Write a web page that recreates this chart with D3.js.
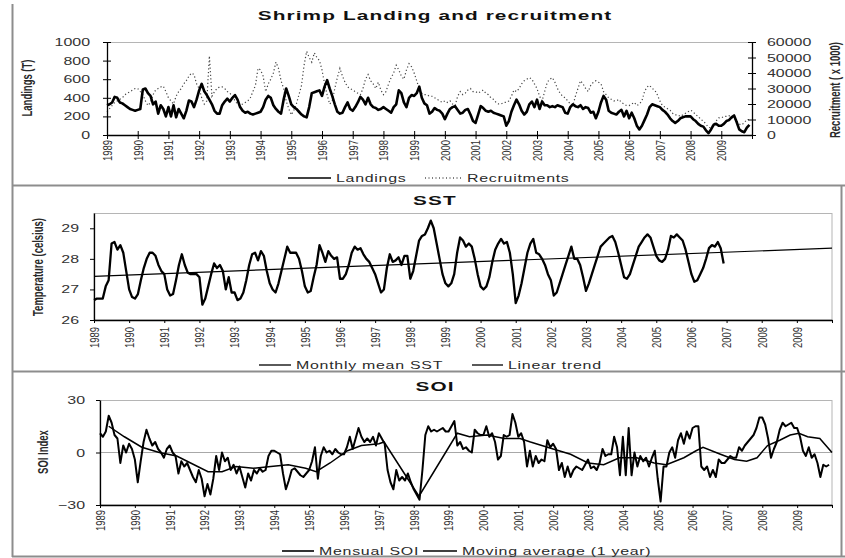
<!DOCTYPE html>
<html>
<head>
<meta charset="utf-8">
<script src="https://cdn.jsdelivr.net/npm/d3@7"></script>
<style>
body { margin: 0; background: #fff; }
svg { display: block; font-family: "Liberation Sans", Arial, sans-serif; }
</style>
</head>
<body>
<svg id="chart" width="845" height="558"></svg>
<script>
var startYear = 1989, endYear = 2010;
var yearTicks = d3.range(1989, 2011);

// monthly landings (T), Jan 1989 - Dec 2009
var landings = [
  320, 330, 350, 410, 400, 350, 340, 320, 300, 280, 270, 260,
  270, 280, 490, 500, 450, 420, 330, 360, 230, 320, 280, 200,
  300, 200, 320, 190, 280, 230, 180, 260, 370, 360, 300, 380,
  480, 550, 470, 430, 380, 330, 260, 230, 230, 320, 360, 390,
  360, 400, 430, 380, 300, 260, 240, 250, 230, 220, 230, 240,
  250, 300, 380, 420, 400, 320, 280, 250, 230, 380, 500, 420,
  330, 300, 280, 250, 220, 200, 190, 300, 450, 460, 470, 480,
  420, 520, 590, 500, 420, 330, 250, 230, 240, 300, 350, 280,
  260, 300, 350, 410, 380, 330, 400, 330, 300, 290, 270, 280,
  300, 280, 260, 240, 300, 330, 480, 450, 350, 300, 400, 430,
  420, 450, 520, 400, 340, 320, 230, 250, 290, 270, 260, 230,
  170, 230, 280, 300, 310, 270, 230, 240, 270, 280, 220, 150,
  130, 220, 310, 290, 260, 250, 260, 240, 230, 220, 210, 200,
  100, 150, 250, 320, 380, 330, 260, 220, 250, 330, 360, 300,
  380, 280, 360, 320, 320, 300, 310, 300, 320, 310, 300, 240,
  230, 300, 330, 310, 300, 320, 280, 300, 290, 240, 250, 180,
  250, 350, 420, 380, 260, 240, 230, 220, 250, 270, 200, 260,
  180, 240, 180, 100, 60, 100, 160, 220, 300, 330, 320, 310,
  300, 270, 250, 220, 180, 150, 130, 150, 180, 190, 200, 200,
  200, 170, 150, 120, 100, 90, 50, 20, 60, 110, 120, 100,
  100, 120, 150, 160, 190, 210, 140, 60, 40, 30, 80, 110
];

// monthly recruitment (x 1000)
var recruitment = [
  15000, 17000, 19000, 21000, 22000, 23000, 24000, 26000, 27000, 28000, 29000, 30000,
  30000, 28000, 26000, 22000, 19000, 21000, 26000, 29000, 30000, 31000, 31500, 28000,
  24000, 22000, 20000, 25000, 28000, 30000, 33000, 35000, 38000, 40000, 39000, 33000,
  30000, 24000, 20000, 22000, 51000, 25000, 28000, 30000, 31000, 31000, 30000, 28000,
  27000, 25000, 22000, 20000, 19000, 20000, 21000, 22000, 24000, 28000, 32000, 43000,
  42000, 38000, 28000, 33000, 36000, 40000, 47000, 43000, 35000, 30000, 22000, 17000,
  13000, 16000, 20000, 26000, 32000, 45000, 54000, 50000, 47000, 53000, 50000, 48000,
  42000, 33000, 26000, 20000, 22000, 30000, 37000, 43000, 38000, 34000, 31000, 30000,
  29000, 28000, 27000, 26000, 30000, 36000, 39000, 35000, 33000, 30000, 34000, 29000,
  26000, 28000, 33000, 37000, 40000, 45000, 42000, 38000, 36000, 42000, 46000, 44000,
  40000, 35000, 30000, 27000, 26000, 26000, 25000, 25000, 24000, 23000, 22000, 21000,
  22000, 21000, 22000, 20000, 19000, 25000, 28000, 26000, 27000, 29000, 30000, 28000,
  28000, 27000, 28000, 29000, 27000, 26000, 24000, 23000, 21000, 20000, 20000, 21000,
  21000, 22000, 25000, 29000, 28000, 30000, 33000, 35000, 36000, 37000, 36000, 33000,
  30000, 25000, 22000, 28000, 34000, 36000, 37000, 34000, 30000, 27000, 25000, 24000,
  22000, 20000, 19000, 25000, 30000, 35000, 33000, 30000, 28000, 32000, 34000, 35000,
  34000, 33000, 28000, 26000, 24000, 23000, 22000, 22000, 23000, 21000, 20000, 19000,
  19000, 20000, 21000, 19000, 20000, 22000, 28000, 31000, 32000, 30000, 29000, 26000,
  22000, 19000, 18000, 17000, 16000, 14000, 13000, 13000, 12000, 13000, 14000, 15000,
  16000, 15000, 13000, 12000, 10000, 9000, 7000, 5000, 4500, 7000, 9000, 11000,
  11000, 12000, 12000, 12500, 11000, 11000, 9000, 7000, 6500, 8000, 10000, 10000
];

// monthly mean SST (celsius), Jan 1989 - Dec 2006
var sst = [
  26.65, 26.7, 26.7, 26.7, 27.1, 27.3, 28.5, 28.55, 28.3, 28.45, 28.2, 27.6,
  27.0, 26.75, 26.7, 26.85, 27.3, 27.7, 28.0, 28.2, 28.2, 28.1, 27.8, 27.6,
  27.5, 27.0, 26.8, 26.85, 27.3, 27.8, 28.15, 27.8, 27.55, 27.5, 27.5, 27.5,
  27.4, 26.5, 26.7, 27.1, 27.5, 27.85, 27.7, 27.8, 27.6, 27.0, 27.4, 26.9,
  26.9, 26.65, 26.7, 26.9, 27.3, 27.8, 28.15, 28.2, 27.95, 28.25, 28.1, 27.6,
  27.2, 27.0, 26.9, 27.2, 27.6, 28.0, 28.4, 28.2, 28.2, 28.2, 28.0, 27.6,
  27.1, 26.9, 26.95, 27.4, 27.8, 28.45, 28.2, 27.9, 28.25, 28.1, 28.0, 28.05,
  27.35, 27.35, 27.5, 27.8, 28.2, 28.4, 28.3, 28.35, 28.15, 28.0, 27.9, 27.7,
  27.5, 27.2, 26.9, 27.0, 27.7, 28.15, 27.9, 27.95, 28.05, 27.8, 28.1, 28.1,
  27.35, 27.6, 28.1, 28.6, 28.75, 28.8, 29.0, 29.25, 29.0, 28.5, 28.0, 27.5,
  27.2, 27.1, 27.2, 27.5, 28.2, 28.7, 28.6, 28.4, 28.5, 28.4, 28.0, 27.5,
  27.1, 27.0, 27.1, 27.4, 27.9, 28.3, 28.5, 28.65, 28.5, 28.55, 28.2, 27.5,
  26.55, 26.8, 27.2, 27.7, 28.2, 28.5, 28.65, 28.2, 28.15, 28.0, 27.8, 27.5,
  27.3, 26.8, 26.9, 27.2, 27.5, 27.8, 28.1, 28.4, 28.0, 28.0, 27.8, 27.4,
  26.95, 27.2, 27.5, 27.8, 28.1, 28.4, 28.5, 28.6, 28.7, 28.75, 28.55, 28.2,
  27.8, 27.4, 27.35, 27.5, 27.8, 28.1, 28.4, 28.55, 28.7, 28.8, 28.7, 28.4,
  28.1, 27.95, 27.9, 28.0, 28.3, 28.75, 28.7, 28.8, 28.7, 28.6, 28.3, 27.9,
  27.5, 27.25, 27.3, 27.5, 27.7, 28.0, 28.35, 28.45, 28.4, 28.55, 28.35, 27.85
];
var trendYears = [1989, 2010];
var trendValues = [27.43, 28.35];

// mensual SOI, Jan 1989 - Dec 2009
var soi = [
  11, 9, 12, 21, 17, 10, 8, -6, 4, 0, 5, 2,
  -4, -17, -5, 6, 13, 8, 4, 6, 2, 0, -3, 2,
  4, 0, -2, -12, -5, -8, -6, -10, -14, -17, -10, -15,
  -25, -18, -24, -15, -2, -10, 0, -5, -3, -10, -7, -12,
  -8, -14, -20, -12, -16, -10, -12, -9, -11, -10, -2, 1,
  1, 0, -1, -12, -21, -16, -10, -9, -11, -13, -14, -12,
  -10, -5, 3, -15, -2, 3, 0, 1, -1, 2, 0, -1,
  -1, 3, 9, 2, 8, 14, 9, 6, 8, 6, 9, 4,
  11, 8, 5, -10, -17, -21, -10, -16, -14, -16, -12, -17,
  -21, -24, -27, -10, 10, 15, 12, 13, 12, 13, 14, 12,
  12, 15, 18, 4, 6, 2, 3, 1, 0, 13, 11, 10,
  10, 15, 9, 11, 6, -4, -2, 10, 9, 10, 22, 17,
  9, 11, 6, -8, 1, -8, -2, -6, -4, -5, 7, 3,
  5, 2, -10, -6, -14, -8, -14, -10, -8, -9, -10, -7,
  -4, -9, -8, -10, -6, 2, -2, -1, -1, 9, 3, -13,
  9, -13, 14, -13, 0, -8, -2, -5, -3, -8, -3, 1,
  -15, -28, -8, -8, 0, 3, -3, 7, 11, 5, 12, 8,
  14, 15, 15, -8, -10, -8, -14, -10, -14, -4, -6, -6,
  -4, -2, -3, -3, 3, 1, 4, 6, 8, 10, 14, 20,
  20, 16, 8, -3, 2, 6, 13, 17, 15, 16, 17, 14,
  14, 9, 1, -2, 3, -3, -1, -6, -14, -7, -8, -7
];

// moving average (1 year)
var maYears = [1989.25, 1989.7, 1990.2, 1990.7, 1991.2, 1991.6, 1992.1, 1992.5, 1992.9, 1993.4,
  1993.9, 1994.4, 1994.9, 1995.2, 1995.6, 1996.1, 1996.5, 1997.0, 1997.15, 1998.15,
  1999.25, 1999.6, 2000.1, 2000.6, 2001.05, 2001.35, 2002.0, 2002.5, 2003.0, 2003.45,
  2003.9, 2004.4, 2004.9, 2005.25, 2005.75, 2006.1, 2006.3, 2006.8, 2007.2, 2007.55,
  2007.85, 2008.15, 2008.5, 2008.8, 2009.05, 2009.3, 2009.65, 2010.0];
var maValues = [15, 9, 3, 0, -2, -6, -11, -11, -8, -9,
  -8, -7, -9, -11, -6, 1, 4, 5, 6, -25,
  11, 9, 10, 8, 8, 6, 2, -1, -6, -7,
  -3, -3, -6, -7, -3, 1, 3, -1, -4, -5,
  -3, 4, 7, 10, 11, 9, 8, 0];

function monthly(values) {
  return values.map(function(v, i) { return [startYear + i / 12, v]; });
}

var svg = d3.select('#chart');
var frameColor = '#8d8d8d';
var textColor = '#2a2a2a';
var sx = 1.45;
var plain = d3.format('d');

// panel borders
[[12.5, 4, 12.5, 557], [12, 185.5, 845, 185.5], [12, 371.5, 845, 371.5],
 [12, 556.5, 845, 556.5], [841.5, 186, 841.5, 557]].forEach(function(l) {
  svg.append('line').attr('x1', l[0]).attr('y1', l[1]).attr('x2', l[2]).attr('y2', l[3])
    .attr('stroke', frameColor).attr('stroke-width', 2);
});

function styleAxis(g) {
  g.attr('font-family', null).attr('font-size', null);
  g.select('.domain').attr('stroke', '#000').attr('stroke-width', 1.3);
  g.selectAll('.tick line').attr('stroke', '#000').attr('stroke-width', 1);
  g.selectAll('.tick text').attr('fill', '#333').style('font-size', '11px');
}

function valueAxis(axis, xPos, crossing) {
  var g = svg.append('g').attr('transform', 'translate(' + xPos + ',0)').call(axis);
  styleAxis(g);
  if (crossing) g.selectAll('.tick line').attr('x1', -(+g.select('.tick line').attr('x2')));
  g.selectAll('.tick text').each(function() {
    var t = d3.select(this);
    t.attr('x', (+t.attr('x')) / sx).attr('transform', 'scale(' + sx + ',1)');
  });
  return g;
}

function yearAxis(x, yPos, gap, tickLen, crossing) {
  var g = svg.append('g').attr('transform', 'translate(0,' + yPos + ')')
    .call(d3.axisBottom(x).tickValues(yearTicks).tickSize(tickLen).tickSizeOuter(0)
      .tickFormat(function(d) { return d < endYear ? String(d) : ''; }));
  styleAxis(g);
  if (crossing) g.selectAll('.tick line').attr('y1', -tickLen);
  g.selectAll('.tick text')
    .attr('x', 0).attr('y', 0).attr('dy', '0.35em')
    .attr('text-anchor', 'end')
    .style('font-size', '9.5px')
    .attr('transform', 'translate(0,' + gap + ') scale(1.3,1) rotate(-90)');
  return g;
}

function sideTitle(label, x, y) {
  svg.append('text')
    .attr('transform', 'translate(' + x + ',' + y + ') scale(' + sx + ',1) rotate(-90)')
    .attr('text-anchor', 'middle').attr('dy', '0.35em')
    .style('font-size', '9.5px').style('font-weight', 'bold')
    .attr('fill', textColor).text(label);
}

function panelTitle(label, y) {
  svg.append('text')
    .attr('transform', 'translate(435,' + y + ') scale(1.6,1)')
    .attr('text-anchor', 'middle')
    .style('font-size', '13px').style('font-weight', 'bold').style('letter-spacing', '0.7px')
    .attr('fill', '#111').text(label);
}

function legendItem(x1, x2, y, label, dash, width) {
  svg.append('line').attr('x1', x1).attr('x2', x2).attr('y1', y).attr('y2', y)
    .attr('stroke', '#000').attr('stroke-width', width || 1.3)
    .attr('stroke-dasharray', dash || null);
  svg.append('text')
    .attr('transform', 'translate(' + (x2 + 5) + ',' + (y + 4) + ') scale(' + sx + ',1)')
    .style('font-size', '11px').style('letter-spacing', '0.5px')
    .attr('fill', textColor).text(label);
}

// ---------- panel 1: landings and recruitment ----------
var x1 = d3.scaleLinear().domain([startYear, endYear]).range([107, 752]);
var yL = d3.scaleLinear().domain([0, 1000]).range([135, 42]);
var yR = d3.scaleLinear().domain([0, 60000]).range([135, 42]);

svg.append('line').attr('x1', 107).attr('x2', 752).attr('y1', 42.5).attr('y2', 42.5)
  .attr('stroke', '#b5b5b5');

svg.append('path').datum(monthly(recruitment))
  .attr('fill', 'none').attr('stroke', '#444').attr('stroke-width', 1.2)
  .attr('stroke-dasharray', '1.2,2.4')
  .attr('d', d3.line().x(function(d) { return x1(d[0]); }).y(function(d) { return yR(d[1]); }));

svg.append('path').datum(monthly(landings))
  .attr('fill', 'none').attr('stroke', '#000').attr('stroke-width', 2.6)
  .attr('stroke-linejoin', 'round')
  .attr('d', d3.line().x(function(d) { return x1(d[0]); }).y(function(d) { return yL(d[1]); }));

valueAxis(d3.axisLeft(yL).tickValues(d3.range(0, 1001, 200)).tickFormat(plain)
  .tickSize(4).tickPadding(13).tickSizeOuter(0), 107, true);
valueAxis(d3.axisRight(yR).tickValues(d3.range(0, 60001, 10000)).tickFormat(plain)
  .tickSize(4).tickPadding(11).tickSizeOuter(0), 752, true);
yearAxis(x1, 135, 5, 4, true);

panelTitle('Shrimp Landing and recruitment', 20);
sideTitle('Landings (T)', 27, 88);
sideTitle('Recruitment ( x 1000)', 835, 90);
legendItem(288, 331, 178, 'Landings', null, 1.6);
legendItem(425, 462, 178, 'Recruitments', '1,2.5', 1);

// ---------- panel 2: SST ----------
var x2 = d3.scaleLinear().domain([startYear, endYear]).range([94, 832]);
var y2 = d3.scaleLinear().domain([26, 29.5]).range([320, 213]);

svg.append('rect').attr('x', 94).attr('y', 213.5).attr('width', 738).attr('height', 106.5)
  .attr('fill', 'none').attr('stroke', '#b5b5b5');

svg.append('path').datum(monthly(sst))
  .attr('fill', 'none').attr('stroke', '#000').attr('stroke-width', 2.3)
  .attr('stroke-linejoin', 'round')
  .attr('d', d3.line().x(function(d) { return x2(d[0]); }).y(function(d) { return y2(d[1]); }));

svg.append('path').datum(d3.zip(trendYears, trendValues))
  .attr('fill', 'none').attr('stroke', '#000').attr('stroke-width', 1.2)
  .attr('d', d3.line().x(function(d) { return x2(d[0]); }).y(function(d) { return y2(d[1]); }));

valueAxis(d3.axisLeft(y2).tickValues([26, 27, 28, 29]).tickFormat(plain)
  .tickSize(4).tickPadding(11).tickSizeOuter(0), 94, false);
yearAxis(x2, 320, 7, 3, false);

panelTitle('SST', 205);
sideTitle('Temperature (celsius)', 38, 267);
legendItem(259, 291, 365, 'Monthly mean SST');
legendItem(472, 503, 365, 'Linear trend');

// ---------- panel 3: SOI ----------
var x3 = d3.scaleLinear().domain([startYear, endYear]).range([100, 832]);
var y3 = d3.scaleLinear().domain([-30, 30]).range([505, 400]);

svg.append('rect').attr('x', 100).attr('y', 400.5).attr('width', 732).attr('height', 104.5)
  .attr('fill', 'none').attr('stroke', '#b5b5b5');
svg.append('line').attr('x1', 100).attr('x2', 832).attr('y1', y3(0)).attr('y2', y3(0))
  .attr('stroke', '#a8a8a8');

svg.append('path').datum(monthly(soi))
  .attr('fill', 'none').attr('stroke', '#000').attr('stroke-width', 2)
  .attr('stroke-linejoin', 'round')
  .attr('d', d3.line().x(function(d) { return x3(d[0]); }).y(function(d) { return y3(d[1]); }));

svg.append('path').datum(d3.zip(maYears, maValues))
  .attr('fill', 'none').attr('stroke', '#000').attr('stroke-width', 1.5)
  .attr('d', d3.line().x(function(d) { return x3(d[0]); }).y(function(d) { return y3(d[1]); }));

valueAxis(d3.axisLeft(y3).tickValues([-30, 0, 30]).tickFormat(plain)
  .tickSize(4).tickPadding(11).tickSizeOuter(0), 100, false);
yearAxis(x3, 505, 5, 3, false);

panelTitle('SOI', 391);
sideTitle('SOI Index', 43, 452);
legendItem(282, 314, 551, 'Mensual SOI', null, 1.6);
legendItem(423, 457, 551, 'Moving average (1 year)', null, 1.6);
</script>
</body>
</html>
